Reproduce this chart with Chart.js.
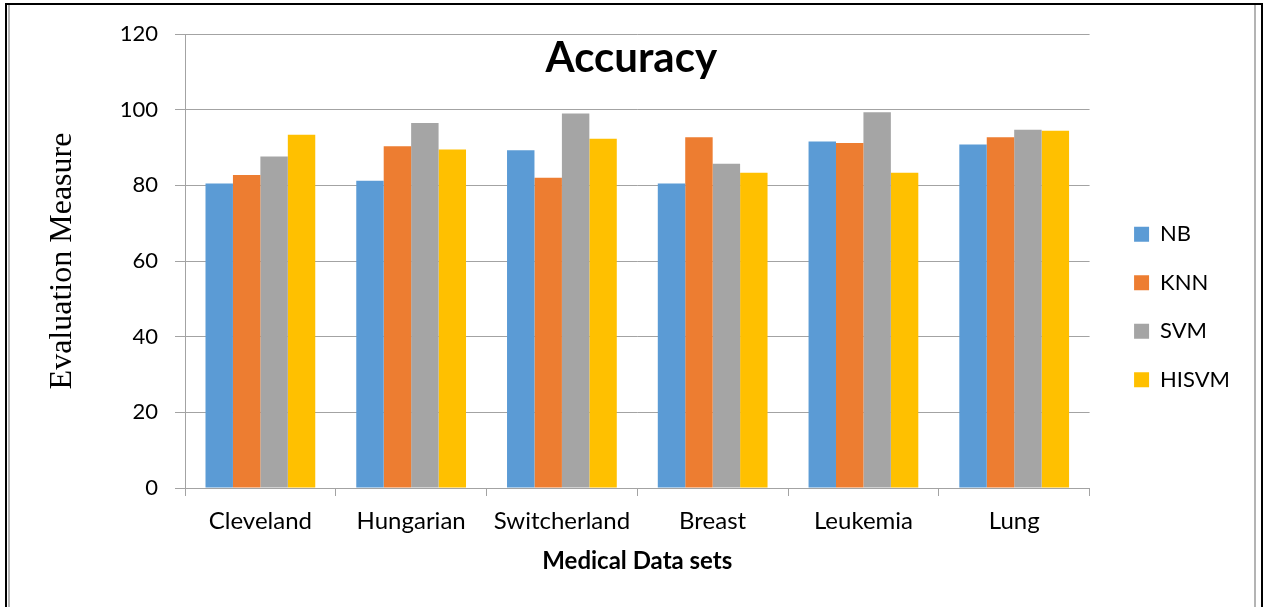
<!DOCTYPE html>
<html>
<head>
<meta charset="utf-8">
<title>Accuracy</title>
<script src="https://cdn.jsdelivr.net/npm/chart.js@4.4.1/dist/chart.umd.min.js"></script>
<style>
  html, body { margin: 0; padding: 0; background: #fff; overflow: hidden; }
  #wrap { position: relative; width: 1263px; height: 607px; }
  #chart { position: absolute; left: 0; top: 0; }
  /* page frame: black outer rule with a grey inner rule */
  #frameOuter {
    position: absolute; left: 5px; top: 3px; width: 1258px; height: 640px;
    border-left: 2px solid #000; border-top: 2px solid #000; border-right: 2px solid #000;
    box-sizing: border-box; pointer-events: none;
  }
  #frameInner {
    position: absolute; left: 8px; top: 5px; width: 1248px; height: 640px;
    border-left: 2px solid #b4b4b4; border-right: 2px solid #b4b4b4;
    box-sizing: border-box; pointer-events: none;
  }
</style>
</head>
<body>
<div id="wrap">
  <canvas id="chart" width="1263" height="607"></canvas>
  <div id="frameInner"></div>
  <div id="frameOuter"></div>
</div>
<script>
// Data sets on the category axis
const categories = ['Cleveland', 'Hungarian', 'Switcherland', 'Breast', 'Leukemia', 'Lung'];

// Accuracy per classifier
const nbValues    = [80.5, 81.2, 89.3, 80.5, 91.6, 90.8];
const knnValues   = [82.7, 90.3, 82.0, 92.7, 91.2, 92.7];
const svmValues   = [87.6, 96.5, 99.0, 85.7, 99.3, 94.7];
const hisvmValues = [93.4, 89.5, 92.3, 83.3, 83.3, 94.4];

// Value axis tick labels
const yTickValues = [0, 20, 40, 60, 80, 100, 120];

const seriesNames  = ['NB', 'KNN', 'SVM', 'HISVM'];
const seriesColors = ['#5B9BD5', '#ED7D31', '#A5A5A5', '#FFC000'];
const seriesValues = [nbValues, knnValues, svmValues, hisvmValues];

const gridColor = '#a3a3a3';
const sansFont = 'Lato, "Open Sans", "Liberation Sans", sans-serif';

// Heading drawn inside the plot area, over the top grid band
const headingPlugin = {
  id: 'heading',
  afterDatasetsDraw(chart) {
    const { ctx, chartArea } = chart;
    ctx.save();
    ctx.font = 'bold 42px ' + sansFont;
    ctx.fillStyle = '#000';
    ctx.textAlign = 'center';
    ctx.textBaseline = 'alphabetic';
    ctx.fillText('Accuracy', (chartArea.left + chartArea.right) / 2 - 6, chartArea.top + 38);
    ctx.restore();
  }
};

new Chart(document.getElementById('chart'), {
  type: 'bar',
  data: {
    labels: categories,
    datasets: seriesNames.map((name, i) => ({
      label: name,
      data: seriesValues[i],
      backgroundColor: seriesColors[i],
      borderWidth: 0,
      categoryPercentage: 0.728,
      barPercentage: 1.0,
      yAxisID: 'y'
    }))
  },
  options: {
    responsive: false,
    animation: false,
    devicePixelRatio: 1,
    layout: { padding: { left: 10, right: 23, top: 34, bottom: 27 } },
    plugins: {
      legend: {
        position: 'right',
        align: 'center',
        labels: {
          boxWidth: 15,
          boxHeight: 15,
          padding: 26.5,
          color: '#000',
          font: { family: sansFont, size: 22 }
        }
      },
      title: { display: false },
      tooltip: { enabled: false }
    },
    scales: {
      x: {
        grid: {
          offset: true,
          drawOnChartArea: false,
          drawTicks: true,
          tickLength: 8,
          color: gridColor
        },
        border: { color: gridColor, width: 1 },
        ticks: {
          color: '#000',
          padding: 11,
          font: { family: sansFont, size: 24 }
        },
        title: {
          display: true,
          text: 'Medical Data sets',
          color: '#000',
          font: { family: sansFont, size: 24, weight: 'bold' },
          padding: { top: 0, bottom: 4 }
        },
        afterFit(scale) { scale.height = 92; }
      },
      y: {
        min: 0,
        max: 120,
        afterBuildTicks(scale) { scale.ticks = yTickValues.map(v => ({ value: v })); },
        grid: { color: gridColor, tickLength: 10, lineWidth: 1 },
        border: { color: gridColor, width: 1 },
        ticks: {
          color: '#000',
          padding: 17,
          font: { family: sansFont, size: 22 }
        },
        title: {
          display: true,
          text: 'Evaluation Measure',
          color: '#000',
          font: { family: '"Liberation Serif", "Times New Roman", serif', size: 32 },
          padding: { top: 33, bottom: 0 }
        },
        afterFit(scale) { scale.width = 175; }
      },
      // spacer between the plot and the legend
      gap: {
        position: 'right',
        display: true,
        grid: { display: false, drawTicks: false },
        border: { display: false },
        ticks: { display: false },
        afterFit(scale) { scale.width = 18; }
      }
    }
  },
  plugins: [headingPlugin]
});
</script>
</body>
</html>
